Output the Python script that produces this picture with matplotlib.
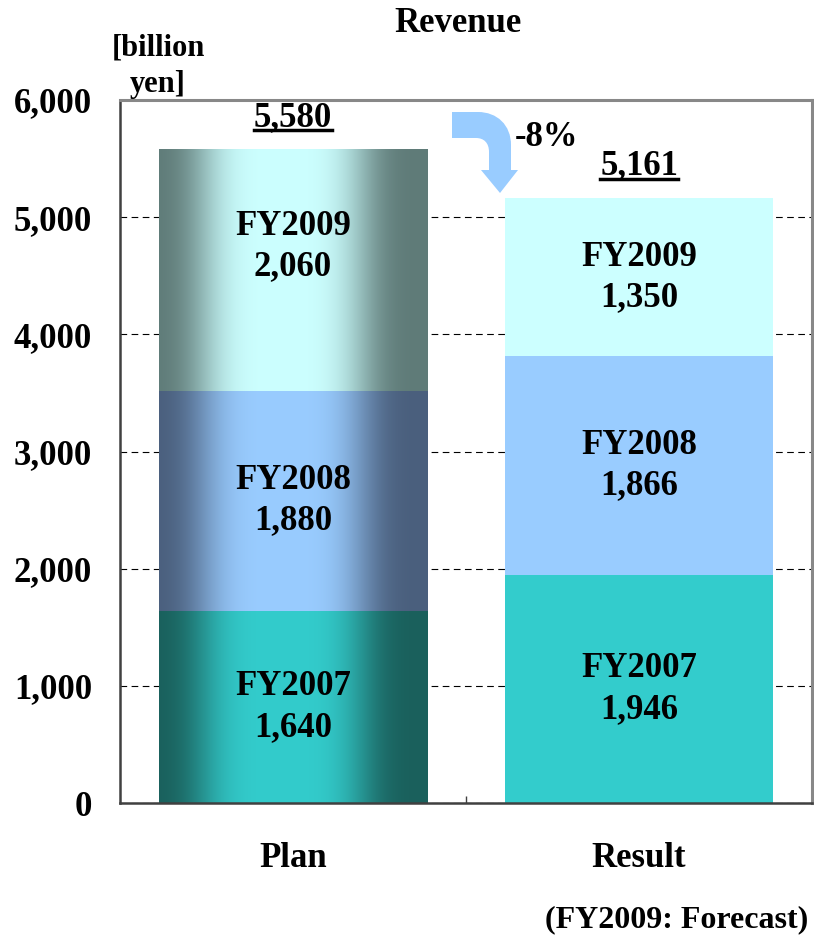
import numpy as np
import matplotlib
matplotlib.use("Agg")
import matplotlib.pyplot as plt
from matplotlib.path import Path
from matplotlib.patches import PathPatch
from matplotlib.lines import Line2D

plt.rcParams["font.family"] = ["Liberation Serif", "DejaVu Serif"]
plt.rcParams["font.weight"] = "bold"

# data
categories = ["Plan", "Result"]
segments = ["FY2007", "FY2008", "FY2009"]
plan_values = [1640, 1880, 2060]
result_values = [1946, 1866, 1350]
total_labels = ["5,580", "5,161"]
change_label = "-8%"
yticks = [0, 1000, 2000, 3000, 4000, 5000, 6000]

base_colors = ["#33CCCC", "#99CCFF", "#CCFFFF"]
edge_colors = ["#1A605C", "#4A5F7D", "#5F7B78"]

W, H = 814, 944
FS = 25


def fig_xy(px, py):
    """pixel position in the picture (top-left origin) -> figure fraction"""
    return px / W, 1 - py / H


def gradient(base, edge, n=256):
    """horizontal cylinder-like shading: dark edges, light centre"""
    t = np.linspace(0, 1, n)
    mix = np.exp(-np.abs((t - 0.46) / 0.32) ** 4)
    b = np.array(matplotlib.colors.to_rgb(base))
    e = np.array(matplotlib.colors.to_rgb(edge))
    return (e[None, :] * (1 - mix[:, None]) + b[None, :] * mix[:, None])[None, :, :]


fig = plt.figure(figsize=(W / 100, H / 100), dpi=100)
x0, y0 = fig_xy(120, 803)
x1, y1 = fig_xy(812, 100)
ax = fig.add_axes([x0, y0, x1 - x0, y1 - y0])

x = np.arange(len(categories))
width = 0.775
all_values = [plan_values, result_values]
# the Plan FY2009 label sits a little above its segment centre
label_shift = [[0, 0, 200], [0, 0, 0]]

for i, vals in enumerate(all_values):
    bottom = 0
    for j, v in enumerate(vals):
        if i == 0:
            bar = ax.bar(x[i], v, width, bottom=bottom, color="none", zorder=2)[0]
            ax.imshow(
                gradient(base_colors[j], edge_colors[j]),
                extent=[bar.get_x(), bar.get_x() + bar.get_width(), bottom, bottom + v],
                aspect="auto",
                interpolation="bilinear",
                zorder=2,
            )
        else:
            ax.bar(x[i], v, width, bottom=bottom, color=base_colors[j], zorder=2)
        ax.text(
            x[i],
            bottom + v / 2 + label_shift[i][j],
            f"{segments[j]}\n{v:,}",
            ha="center",
            va="center",
            fontsize=FS,
            linespacing=1.3,
            zorder=3,
        )
        bottom += v

totals = []
for i, vals in enumerate(all_values):
    t = ax.annotate(
        total_labels[i],
        (x[i], sum(vals)),
        xytext=(0, 17),
        textcoords="offset points",
        ha="center",
        va="baseline",
        fontsize=FS,
    )
    totals.append(t)

ax.set_xlim(-0.5, 1.5)
ax.set_ylim(0, 6000)
ax.set_yticks(yticks)
ax.set_yticklabels([f"{v:,}" for v in yticks], fontsize=FS)
ax.set_xticks(x)
ax.set_xticklabels(categories, fontsize=FS)
ax.set_xticks([0.5], minor=True)
ax.tick_params(axis="y", length=0, pad=20)
ax.tick_params(axis="x", which="major", length=0, pad=28)
ax.tick_params(axis="x", which="minor", direction="in", length=5, width=1, color="#404040")

ax.yaxis.grid(True, color="black", linestyle=(0, (6, 4)), linewidth=0.8)
ax.set_axisbelow(True)
for side in ["left", "bottom"]:
    ax.spines[side].set_color("#404040")
    ax.spines[side].set_linewidth(1.8)
for side in ["top", "right"]:
    ax.spines[side].set_color("#888888")
    ax.spines[side].set_linewidth(2.2)

fig.text(*fig_xy(458, 23), "Revenue", ha="center", va="center", fontsize=FS)
fig.text(*fig_xy(158, 66), "[billion\nyen]", ha="center", va="center",
         fontsize=22, linespacing=1.35)
fig.text(*fig_xy(808, 920), "(FY2009: Forecast)", ha="right", va="center", fontsize=23)
fig.text(*fig_xy(546, 137), change_label, ha="center", va="center", fontsize=FS)

# curved arrow between the bars
pts = [
    (452, 112), (478, 112), (497, 112), (511, 125), (511, 145),
    (511, 170), (518, 170), (500, 193), (481, 170), (489, 170),
    (489, 152), (489, 143), (484, 138), (476, 138), (452, 138), (452, 112),
]
codes = [Path.MOVETO, Path.LINETO, Path.CURVE4, Path.CURVE4, Path.CURVE4,
         Path.LINETO, Path.LINETO, Path.LINETO, Path.LINETO, Path.LINETO,
         Path.LINETO, Path.CURVE4, Path.CURVE4, Path.CURVE4, Path.LINETO, Path.CLOSEPOLY]
arrow = Path([fig_xy(px, py) for px, py in pts], codes)
fig.add_artist(PathPatch(arrow, facecolor="#99CCFF", edgecolor="none",
                         transform=fig.transFigure))

# underline the totals
fig.canvas.draw()
r = fig.canvas.get_renderer()
for t in totals:
    bb = t.get_window_extent(r)
    yl = (bb.y0 + 4) / H
    fig.add_artist(Line2D([bb.x0 / W, bb.x1 / W], [yl, yl], color="black",
                          linewidth=2.5, transform=fig.transFigure))

fig.savefig("out.png", dpi=100)
